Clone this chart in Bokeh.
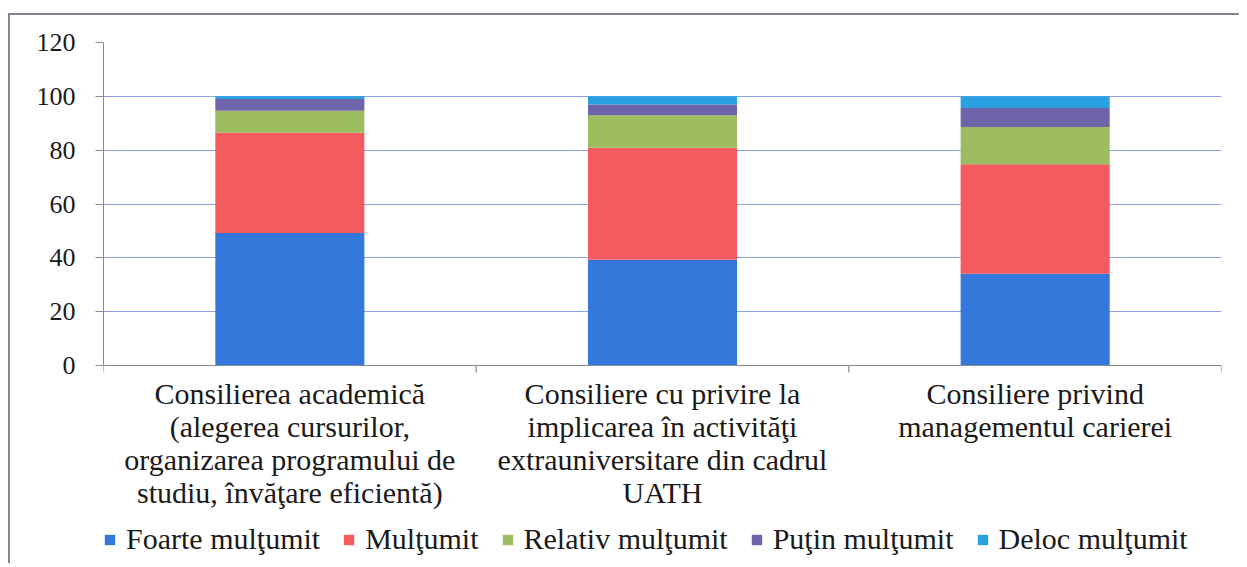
from bokeh.plotting import figure
from bokeh.models import (ColumnDataSource, Legend, LegendItem, Range1d, FixedTicker, Label, Span)
from bokeh.embed import file_html
from bokeh.resources import INLINE

categories = [
    "Consilierea academică\n(alegerea cursurilor,\norganizarea programului de\nstudiu, învăţare eficientă)",
    "Consiliere cu privire la\nimplicarea în activităţi\nextrauniversitare din cadrul\nUATH",
    "Consiliere privind\nmanagementul carierei",
]
series_names = ["Foarte mulţumit", "Mulţumit", "Relativ mulţumit", "Puţin mulţumit", "Deloc mulţumit"]
foarte = [49.2, 39.3, 34.1]
multumit = [37.3, 41.6, 40.7]
relativ = [8.1, 12.1, 13.8]
putin = [4.4, 4.0, 7.1]
deloc = [1.0, 3.0, 4.3]
y_ticks = [0, 20, 40, 60, 80, 100, 120]
colors = ["#3478dc", "#f45a5e", "#9bbd5f", "#6e64aa", "#2aa0e0"]

keys = ["foarte", "multumit", "relativ", "putin", "deloc"]
n = len(categories)
xpos = [i + 0.5 for i in range(n)]
source = ColumnDataSource(dict(x=xpos, foarte=foarte, multumit=multumit,
                               relativ=relativ, putin=putin, deloc=deloc))

FONT = "'Liberation Serif'"
LABEL_FONTS = ["Times", "serif", "Liberation Serif"]
AXIS_GRAY = "#8a8a8a"

# the frame extends below y=0 so that category labels and legend are drawn inside it
p = figure(width=1231, height=550, x_range=Range1d(0, n), y_range=Range1d(-74.3, 120),
           output_backend="svg", toolbar_location=None, x_axis_location=None,
           min_border_left=93, min_border_top=27, min_border_right=20, min_border_bottom=0)
p.margin = (13, 0, 0, 8)
p.styles = {"border-left": "2px solid #7d8596", "border-top": "2px solid #7d8596"}

p.xgrid.grid_line_color = None
p.ygrid.ticker = FixedTicker(ticks=y_ticks[:-1])
p.ygrid.grid_line_color = "#8da2e0"
p.ygrid.grid_line_width = 1.2
p.outline_line_color = None

renderers = p.vbar_stack(keys, x="x", width=0.4, color=colors, source=source, line_color=None)

# y axis
yaxis = p.yaxis[0]
yaxis.ticker = FixedTicker(ticks=y_ticks)
yaxis.bounds = (y_ticks[0], y_ticks[-1])
yaxis.major_label_text_font = FONT
yaxis.major_label_text_font_size = "26px"
yaxis.major_label_text_color = "#1a1a1a"
yaxis.axis_line_color = AXIS_GRAY
yaxis.major_tick_line_color = AXIS_GRAY
yaxis.major_tick_out = 8
yaxis.major_tick_in = 0
yaxis.minor_tick_line_color = None
yaxis.major_label_standoff = 20

# category axis line at y=0 with tick marks between categories
p.add_layout(Span(location=0, dimension="width", line_color=AXIS_GRAY, line_width=1.2))
bounds = list(range(n + 1))
p.segment(x0=bounds, x1=bounds, y0=[0] * len(bounds), y1=[-2.6] * len(bounds),
          line_color=AXIS_GRAY, line_width=1.2)

# category labels below the axis line
for x, c, f in zip(xpos, categories, LABEL_FONTS):
    p.add_layout(Label(x=x, y=-4.4, text=c, text_align="center", text_baseline="top",
                       text_font=f, text_font_size="30px", text_color="#1a1a1a",
                       text_line_height=1.0))

legend = Legend(items=[LegendItem(label=s, renderers=[r]) for s, r in zip(series_names, renderers)],
                orientation="horizontal", location=(0, 9))
legend.label_text_font = "Times"
legend.label_text_font_size = "30px"
legend.label_text_color = "#1a1a1a"
legend.glyph_width = 13
legend.glyph_height = 13
legend.label_standoff = 10
legend.spacing = 22
legend.border_line_color = None
legend.background_fill_alpha = 0
legend.padding = 0
legend.margin = 0
p.add_layout(legend, "center")

open("out.html", "w").write(file_html(p, INLINE))
